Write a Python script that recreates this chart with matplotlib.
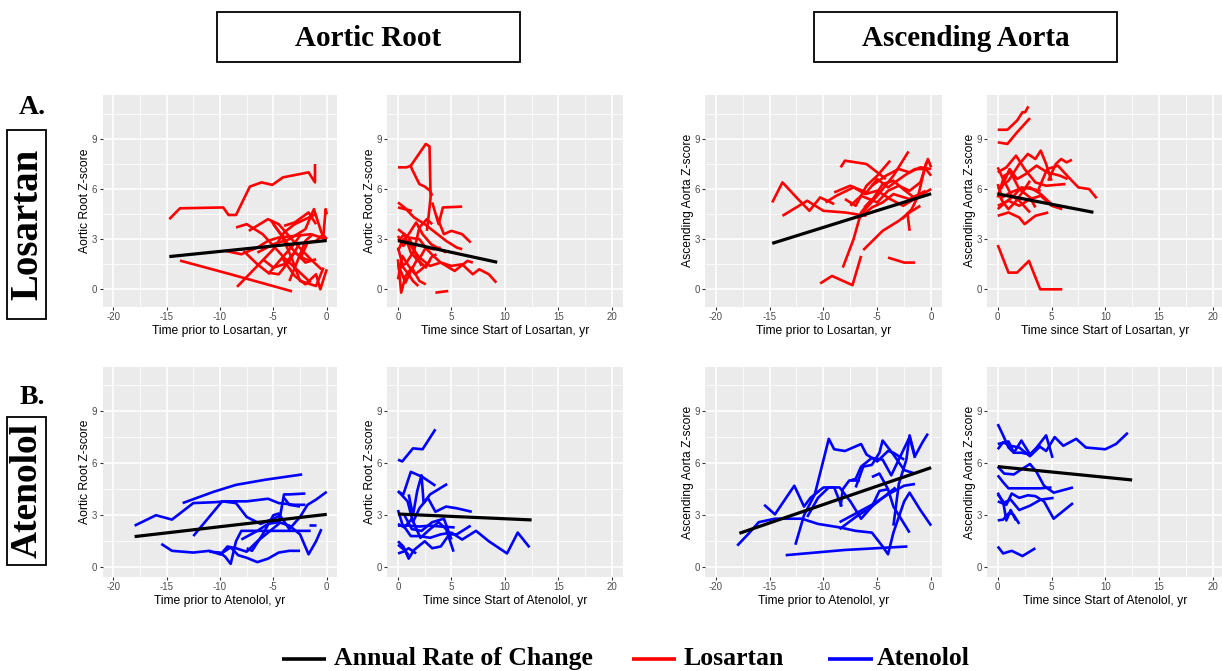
import numpy as np
import matplotlib
matplotlib.use('Agg')
import matplotlib.pyplot as plt
from matplotlib.patches import Rectangle
from matplotlib.lines import Line2D

plt.rcParams['font.family'] = ['Liberation Sans', 'DejaVu Sans']
plt.rcParams['axes.unicode_minus'] = False

# ---- data: individual patient trajectories (time, z-score) ----
root_los_pre = [
    [(-14.75, 4.2), (-13.75, 4.85), (-9.7, 4.9), (-9.2, 4.45), (-8.5, 4.45), (-7.2, 6.15), (-6.1, 6.4),
     (-5.1, 6.25), (-4.1, 6.7), (-1.7, 7.0), (-1.1, 6.4), (-1.1, 7.5)],
    [(-13.75, 1.72), (-9.0, 0.9), (-3.25, -0.12)],
    [(-8.4, 0.15), (-6.5, 1.4), (-5.0, 2.4), (-4.0, 3.4), (-3.0, 3.9), (-2.0, 4.2), (-1.0, 4.5)],
    [(-8.5, 3.7), (-7.5, 3.9), (-6.0, 3.3), (-5.0, 2.6), (-4.0, 1.9), (-2.5, 1.0), (-1.5, 0.4)],
    [(-7.3, 3.5), (-5.5, 4.2), (-4.5, 3.9), (-3.0, 2.8), (-1.5, 1.8), (-0.5, 1.2)],
    [(-5.2, 4.1), (-4.2, 3.2), (-3.3, 1.9), (-2.5, 0.5), (-1.0, 0.2), (-0.3, 1.3)],
    [(-6.5, 2.2), (-5.0, 2.7), (-3.5, 3.0), (-2.0, 3.6), (-1.2, 4.8), (-0.5, 3.4), (0, 3.0)],
    [(-9.5, 2.3), (-8.0, 2.1), (-6.5, 2.5), (-5.5, 2.9), (-4.5, 3.1), (-3.0, 3.2), (-1.5, 3.3), (0, 3.0)],
    [(-5.0, 3.9), (-3.5, 2.6), (-2.0, 1.6), (-1.0, 1.8)],
    [(-4.2, 1.9), (-3.0, 0.8), (-2.0, 0.3), (-1.0, 0.9), (-0.6, 0.0), (0, 1.2)],
    [(-2.5, 1.8), (-1.8, 2.8), (-1.0, 2.9), (-0.3, 3.3), (-0.1, 4.8), (0, 4.5)],
    [(-7.8, 2.3), (-6.5, 1.5), (-5.5, 1.0), (-4.5, 0.9), (-3.5, 1.7), (-2.5, 2.8)],
    [(-4.0, 3.8), (-3.0, 4.0), (-1.7, 4.6), (-1.0, 3.9)],
    [(-6.0, 1.8), (-5.0, 1.3), (-4.0, 1.5), (-3.0, 2.2), (-2.0, 1.8), (-1.2, 1.7)],
    [(-3.5, 0.5), (-2.8, 1.6), (-2.0, 2.9), (-1.3, 3.3)],
    [(-5.5, 0.9), (-4.3, 1.8), (-3.2, 2.6), (-2.4, 3.3)],
]
root_los_post = [
    [(0, 7.3), (0.8, 7.3), (1.2, 7.4), (1.3, 7.2), (2.0, 6.3), (2.5, 6.15), (3.0, 5.9), (3.2, 5.6)],
    [(1.2, 7.4), (2.6, 8.7), (2.95, 8.55), (3.05, 5.5), (2.9, 4.6), (2.7, 3.5)],
    [(0, 5.2), (0.6, 4.9), (1.5, 4.3), (2.5, 3.9), (3.5, 3.4), (4.5, 2.9), (5.5, 2.5), (6.0, 2.4)],
    [(0, 4.9), (1.3, 4.7)],
    [(3.2, 5.2), (3.8, 3.9), (4.2, 4.9), (6.0, 4.95)],
    [(3.6, 4.4), (4.3, 3.3), (5.0, 3.5), (6.0, 3.3), (6.8, 2.8)],
    [(0, 3.6), (1.0, 3.1), (2.0, 3.0), (2.7, 2.4), (3.3, 2.0), (4.0, 1.6), (5.0, 1.4), (6.0, 1.5), (7.0, 0.9),
     (7.6, 1.2), (8.5, 0.9), (9.2, 0.4)],
    [(0, 2.3), (0.5, 3.0), (1.2, 2.6), (2.0, 1.9), (3.0, 1.4), (4.0, 1.6), (5.3, 1.1), (6.5, 1.7), (7.0, 1.6)],
    [(0, 1.8), (0.3, -0.2), (0.7, 0.8), (1.3, 1.3), (2.0, 0.5), (2.6, 0.3)],
    [(0, 0.6), (0.4, 2.0), (1.0, 1.4), (1.6, 0.9), (2.2, 1.2), (3.0, 1.7)],
    [(0, 1.2), (0.8, 1.6), (1.5, 2.3), (2.0, 3.7), (2.7, 4.2), (3.2, 3.9)],
    [(0, 2.9), (0.6, 3.3), (1.2, 2.2), (1.9, 1.7), (2.6, 2.5), (3.3, 2.4), (4.0, 2.5)],
    [(0, 2.5), (0.5, 1.3), (1.0, 0.9), (1.4, 0.5), (1.9, 0.2)],
    [(3.5, -0.2), (4.7, -0.1)],
    [(0.2, 2.6), (1.0, 3.3), (1.7, 4.0), (2.3, 3.3), (3.1, 2.7), (4.5, 2.2)],
    [(0, 1.5), (0.7, 0.4), (1.2, 1.1), (1.8, 1.8), (2.6, 1.3), (3.1, 1.9), (3.6, 2.1)],
    [(0, 3.2), (0.5, 2.6), (1.1, 3.0), (1.6, 2.2), (2.2, 1.4)],
]
asc_los_pre = [
    [(-14.75, 5.2), (-13.8, 6.4), (-12.5, 5.5), (-11.3, 4.7), (-10.3, 5.5), (-9.0, 5.1)],
    [(-13.8, 4.4), (-11.5, 5.3), (-10.0, 4.7), (-8.0, 4.6), (-6.0, 4.4)],
    [(-8.4, 7.3), (-8.0, 7.7), (-6.0, 7.5), (-4.2, 6.6)],
    [(-8.2, 1.3), (-7.2, 3.0), (-6.5, 4.6), (-5.5, 5.4)],
    [(-10.3, 0.35), (-9.2, 0.8), (-7.3, 0.25), (-6.5, 2.0)],
    [(-6.3, 2.35), (-4.5, 3.5), (-3.0, 4.1), (-2.0, 4.6), (-1.0, 5.0)],
    [(-4.0, 1.9), (-2.5, 1.6), (-1.5, 1.6)],
    [(-2.2, 4.6), (-2.0, 3.5)],
    [(-2.1, 8.25), (-3.5, 6.8), (-5.0, 5.6), (-6.5, 4.5)],
    [(-9.0, 5.8), (-7.5, 6.2), (-6.0, 5.8), (-5.0, 6.6), (-4.0, 6.1), (-2.5, 6.8), (-1.5, 7.2), (-0.5, 7.2), (0, 6.8)],
    [(-7.5, 5.0), (-6.5, 5.6), (-5.0, 5.2), (-4.0, 5.9), (-3.0, 6.2), (-2.0, 5.9), (-1.0, 6.4), (-0.3, 7.8), (0, 7.3)],
    [(-6.8, 4.2), (-5.5, 4.9), (-4.5, 5.2), (-3.5, 5.7), (-2.0, 5.4), (-0.5, 5.9)],
    [(-8.0, 5.4), (-7.0, 5.0), (-6.0, 6.2), (-5.0, 6.8), (-3.8, 7.7)],
    [(-6.2, 4.9), (-5.3, 5.5), (-4.5, 6.3), (-3.5, 6.5), (-2.6, 6.0), (-1.6, 5.5), (-0.8, 5.7), (0, 6.0)],
    [(-9.8, 5.2), (-8.8, 5.6), (-7.2, 6.1), (-6.1, 5.7), (-5.0, 5.9), (-3.8, 5.4), (-2.6, 5.0), (-1.3, 5.5)],
    [(-5.5, 6.2), (-4.2, 6.8), (-3.0, 7.2), (-2.0, 7.0), (-1.0, 7.3), (0, 7.2)],
    [(-2.7, 4.2), (-1.8, 4.8), (-1.2, 5.6), (-0.5, 7.5), (-0.3, 7.7)],
]
asc_los_post = [
    [(0, 9.55), (0.9, 9.55), (1.8, 10.1), (2.3, 10.6), (2.55, 10.6), (2.85, 10.95)],
    [(0, 8.8), (0.9, 8.7), (1.8, 9.4), (3.0, 10.25)],
    [(0, 2.65), (1.0, 1.0), (1.8, 1.0), (2.9, 1.7), (3.95, 0.0), (4.9, 0.0), (6.0, 0.0)],
    [(3.8, 6.0), (4.6, 7.2), (5.6, 7.4), (6.6, 6.7), (7.5, 6.1), (8.5, 6.0), (9.2, 5.45)],
    [(4.7, 6.5), (5.4, 7.5), (5.9, 7.8), (6.4, 7.6), (6.9, 7.75)],
    [(0, 6.0), (1.0, 6.5), (2.0, 7.5), (2.8, 8.1), (3.5, 7.8), (4.0, 8.3), (4.5, 7.5), (5.0, 6.5)],
    [(0, 7.0), (0.8, 7.3), (1.7, 8.0), (2.5, 7.2), (3.5, 6.4), (4.5, 6.2), (6.3, 6.3)],
    [(0, 5.0), (1.0, 5.3), (2.0, 5.0), (3.0, 5.4), (4.0, 5.6), (5.0, 5.0), (6.0, 4.8)],
    [(0, 4.4), (1.0, 4.6), (2.0, 4.3), (2.5, 3.9), (3.5, 4.4), (4.7, 4.6)],
    [(0, 6.3), (0.4, 5.5), (1.2, 5.8), (2.0, 6.0), (3.0, 6.1), (4.0, 5.7), (5.0, 5.1)],
    [(0, 5.5), (0.6, 6.8), (1.2, 7.0), (2.0, 6.0), (3.0, 5.5), (3.5, 4.9)],
    [(0, 7.3), (0.5, 6.6), (1.3, 5.6), (2.0, 5.3), (3.0, 4.6)],
    [(0, 5.8), (0.5, 5.2), (1.0, 4.8), (1.6, 5.2), (2.4, 5.9), (3.0, 6.5)],
    [(0.3, 6.0), (1.1, 7.2), (1.8, 6.6), (2.6, 6.9), (3.6, 7.4), (4.6, 7.0), (5.8, 6.8), (6.5, 6.6)],
    [(0, 4.8), (0.7, 5.2), (1.5, 5.6), (2.2, 6.1), (3.2, 6.0), (4.0, 5.9)],
]
root_ate_pre = [
    [(-13.5, 3.7), (-10.6, 4.35), (-8.5, 4.75), (-5.7, 5.05), (-2.3, 5.35)],
    [(-18.0, 2.4), (-16.0, 3.0), (-14.5, 2.75), (-12.5, 3.7), (-10.5, 3.75), (-9.5, 3.8), (-7.5, 3.8),
     (-5.5, 3.95), (-4.5, 3.7), (-3.0, 3.6), (-2.0, 3.6)],
    [(-12.5, 1.8), (-9.8, 3.8), (-8.5, 3.7), (-7.5, 2.9), (-6.2, 2.5), (-5.0, 2.8), (-4.3, 3.0)],
    [(-15.5, 1.35), (-14.5, 0.95), (-12.5, 0.85), (-11.0, 0.95), (-10.0, 0.75), (-9.0, 1.15), (-8.3, 0.7),
     (-7.5, 0.55), (-6.5, 0.3), (-5.5, 0.5), (-4.5, 0.85), (-3.5, 0.95), (-2.5, 0.95)],
    [(-11.0, 0.9), (-10.0, 0.85), (-9.5, 0.6), (-9.0, 0.2), (-8.5, 1.5), (-8.0, 2.1), (-5.0, 2.1), (-1.5, 2.1)],
    [(-10.0, 0.7), (-9.3, 1.2), (-8.5, 1.1), (-7.5, 0.9), (-6.5, 1.5), (-5.5, 2.0), (-4.5, 2.5), (-4.0, 4.2),
     (-3.5, 4.2), (-2.0, 4.25)],
    [(-7.5, 1.1), (-7.0, 0.95), (-6.0, 1.9), (-5.0, 3.0), (-4.5, 3.1), (-3.5, 2.2), (-2.5, 2.9), (-1.8, 3.6),
     (-1.0, 3.9), (0, 4.35)],
    [(-8.0, 1.6), (-6.5, 2.1), (-5.5, 2.5), (-4.5, 2.6), (-3.5, 2.4), (-2.5, 1.9), (-1.7, 0.75), (-1.0, 1.5),
     (-0.5, 2.2)],
    [(-1.7, 2.45), (-1.0, 2.45)],
    [(-4.0, 4.0), (-3.5, 3.6), (-2.5, 3.5)],
]
root_ate_post = [
    [(0, 6.2), (0.4, 6.1), (1.4, 6.85), (2.3, 6.8), (3.5, 7.95)],
    [(0, 4.35), (0.5, 4.2), (1.2, 5.5), (2.3, 5.2), (3.5, 4.7)],
    [(1.0, 4.2), (1.4, 3.0), (1.8, 4.4), (2.2, 5.3), (2.4, 3.7), (3.0, 4.2), (4.6, 4.8)],
    [(0, 4.4), (0.9, 3.8), (1.4, 2.6), (2.0, 3.4), (2.8, 4.0), (3.5, 3.2), (4.5, 3.5), (5.5, 3.4), (6.9, 3.2)],
    [(0, 3.3), (0.4, 2.5), (1.2, 1.8), (2.0, 1.8), (3.0, 1.7), (4.0, 1.9), (5.0, 2.0), (6.0, 1.6), (7.3, 2.1),
     (8.5, 1.5), (10.2, 0.8), (11.2, 2.0), (12.3, 1.15)],
    [(0, 2.4), (1.0, 2.4), (2.0, 2.35), (3.0, 2.4), (4.0, 2.35), (5.3, 2.3)],
    [(0, 2.5), (0.6, 2.3), (1.3, 2.8), (2.1, 1.7), (3.0, 2.2), (3.8, 2.6), (4.5, 2.2), (5.2, 0.9)],
    [(0, 1.5), (0.5, 1.2), (1.0, 0.5), (1.5, 1.0), (2.5, 1.5), (3.2, 1.1), (4.0, 1.2), (4.8, 1.9), (5.5, 1.9),
     (6.8, 2.4)],
    [(0, 0.8), (0.5, 0.9), (1.0, 1.1), (1.7, 0.8)],
    [(0, 1.3), (0.6, 1.0), (1.0, 0.7)],
    [(0.6, 3.0), (1.3, 2.2), (2.2, 2.1), (3.2, 2.6), (4.3, 2.8), (5.0, 1.6)],
]
asc_ate_pre = [
    [(-18.0, 1.25), (-17.0, 1.9), (-16.0, 2.6), (-14.5, 2.8), (-12.0, 2.8), (-10.5, 2.5), (-8.5, 2.3),
     (-7.0, 2.1), (-5.5, 2.0), (-4.5, 1.2), (-4.0, 0.75), (-3.5, 2.0), (-2.5, 3.8), (-2.0, 4.3), (-1.0, 3.3),
     (0, 2.4)],
    [(-13.5, 0.7), (-8.0, 1.0), (-2.2, 1.2)],
    [(-15.5, 3.6), (-14.5, 3.05), (-12.7, 4.7), (-11.8, 3.5), (-11.2, 4.0), (-10.0, 4.6), (-9.0, 4.6),
     (-8.3, 3.5)],
    [(-12.6, 1.3), (-11.8, 3.0), (-10.8, 4.2), (-9.5, 7.4), (-9.0, 6.8), (-8.0, 6.7), (-6.5, 7.1), (-6.0, 6.5),
     (-5.0, 6.1), (-4.0, 6.7), (-3.5, 6.6), (-2.5, 6.2)],
    [(-11.5, 2.9), (-10.5, 4.0), (-9.5, 4.6), (-8.5, 4.6), (-7.5, 3.8), (-6.5, 2.8), (-5.5, 3.5), (-4.8, 4.4),
     (-4.0, 4.5)],
    [(-8.5, 2.6), (-7.0, 3.1), (-5.5, 3.6), (-4.0, 4.2), (-2.5, 4.7), (-1.5, 4.8)],
    [(-8.5, 2.2), (-7.0, 2.9), (-5.5, 3.5), (-4.5, 4.0), (-3.3, 4.6)],
    [(-7.0, 4.6), (-6.3, 5.8), (-5.5, 5.9), (-4.8, 6.6), (-4.5, 7.3), (-3.5, 6.5), (-2.5, 5.6), (-1.5, 5.4)],
    [(-5.5, 5.2), (-4.8, 5.4), (-4.0, 4.5), (-3.5, 3.5), (-2.5, 2.5), (-2.0, 2.0)],
    [(-3.5, 2.4), (-3.0, 4.8), (-2.3, 6.2), (-2.0, 7.6), (-1.5, 6.4), (-0.8, 7.2), (-0.3, 7.7)],
    [(-7.5, 5.0), (-7.0, 5.1), (-6.5, 5.8), (-5.5, 6.3), (-4.5, 6.2), (-3.7, 5.3), (-2.0, 7.5), (-1.5, 6.3)],
    [(-8.4, 3.5), (-8.2, 4.5), (-7.6, 5.0), (-6.6, 5.0)],
]
asc_ate_post = [
    [(0, 8.25), (0.5, 7.6), (1.0, 6.9), (1.5, 6.6), (2.2, 6.6), (3.0, 6.5), (3.5, 6.8), (4.5, 7.6), (5.1, 6.3)],
    [(0, 7.1), (1.0, 7.25), (1.5, 6.6), (2.2, 7.3), (3.0, 6.5), (3.8, 7.0), (4.5, 6.7), (5.3, 7.5), (6.1, 7.0),
     (7.3, 7.4), (8.2, 6.9), (10.0, 6.8), (11.0, 7.1), (12.1, 7.75)],
    [(0, 6.8), (0.5, 7.2), (1.2, 7.0), (2.0, 6.9), (3.0, 6.4), (4.0, 7.0)],
    [(0, 5.8), (0.6, 5.4), (1.5, 5.35), (2.1, 5.6), (3.0, 5.95), (3.6, 5.5), (4.3, 4.7), (5.2, 4.3), (7.0, 4.6)],
    [(0, 5.3), (0.5, 4.9), (1.0, 4.55), (2.0, 4.55), (3.0, 4.55), (4.0, 4.55), (5.0, 4.6)],
    [(0, 4.3), (0.5, 3.7), (1.2, 3.9), (2.0, 3.3), (3.0, 3.55), (4.0, 3.9), (5.2, 4.0)],
    [(0, 3.8), (0.8, 3.6), (1.3, 4.25), (2.0, 4.0), (2.8, 4.15), (3.5, 4.1), (4.3, 3.8), (5.2, 2.8), (6.0, 3.2),
     (7.0, 3.7)],
    [(0, 2.7), (0.5, 2.75), (1.0, 3.1), (1.3, 3.1), (1.5, 3.0), (2.0, 2.5)],
    [(0, 1.2), (0.5, 0.8), (1.3, 0.95), (2.3, 0.65), (3.5, 1.1)],
    [(0, 4.2), (0.5, 3.8), (0.8, 2.7), (1.2, 3.3), (1.7, 2.7)],
]

# annual rate of change (fitted line end points)
trend_root_los_pre = [(-14.75, 1.96), (0, 2.92)]
trend_root_los_post = [(0, 2.91), (9.28, 1.62)]
trend_asc_los_pre = [(-14.75, 2.75), (0, 5.72)]
trend_asc_los_post = [(0, 5.71), (8.9, 4.61)]
trend_root_ate_pre = [(-18.0, 1.77), (0, 3.05)]
trend_root_ate_post = [(0, 3.07), (12.5, 2.73)]
trend_asc_ate_pre = [(-17.8, 1.96), (0, 5.74)]
trend_asc_ate_post = [(0, 5.8), (12.5, 5.03)]

pre_ticks = [-20, -15, -10, -5, 0]
post_ticks = [0, 5, 10, 15, 20]
z_ticks = [0, 3, 6, 9]

W, H = 1222, 671
RED = '#FF0000'
BLUE = '#0000FF'


def px_rect(x0, x1, y_top, y_bot):
    return [x0 / W, 1 - y_bot / H, (x1 - x0) / W, (y_bot - y_top) / H]


def make_panel(fig, rect, xticks, ylim, xlabel, ylabel):
    ax = fig.add_axes(rect)
    ax.set_facecolor('#EBEBEB')
    if xticks[0] < 0:
        ax.set_xlim(-21, 1)
    else:
        ax.set_xlim(-1, 21)
    ax.set_ylim(ylim)
    ax.set_xticks(xticks)
    ax.set_xticks([t + 2.5 for t in xticks[:-1]], minor=True)
    ax.set_yticks(z_ticks)
    ax.set_yticks([1.5, 4.5, 7.5, 10.5], minor=True)
    ax.grid(which='major', color='white', lw=1.1)
    ax.grid(which='minor', color='white', lw=0.55)
    ax.set_axisbelow(True)
    ax.tick_params(which='minor', length=0)
    ax.tick_params(which='major', length=2.2, width=0.8, color='#333333',
                   labelsize=7, labelcolor='#4D4D4D', pad=1.5)
    for s in ax.spines.values():
        s.set_visible(False)
    ax.set_xlabel(xlabel, fontsize=8.7, labelpad=2)
    ax.set_ylabel(ylabel, fontsize=8.7, labelpad=0.5)
    return ax


def draw_lines(ax, paths, color, trend):
    for p in paths:
        xy = np.array(p)
        ax.plot(xy[:, 0], xy[:, 1], color=color, lw=1.9, solid_joinstyle='round', solid_capstyle='butt')
    t = np.array(trend)
    ax.plot(t[:, 0], t[:, 1], color='black', lw=2.3, solid_capstyle='butt', zorder=5)


def add_box(fig, x0, x1, y_top, y_bot):
    fig.patches.append(Rectangle((x0 / W, 1 - y_bot / H), (x1 - x0) / W, (y_bot - y_top) / H,
                                 transform=fig.transFigure, fill=False, lw=1.3, ec='black'))


def main():
    fig = plt.figure(figsize=(W / 100, H / 100), dpi=100)
    fig.patch.set_facecolor('white')

    cols = [(102.6, 337.4), (387.3, 622.5), (704.9, 941.9), (987.0, 1223.5)]
    top = (95.0, 306.7)
    bot = (367.3, 576.7)
    top_ylim = (-1.04, 11.63)
    bot_ylim = (-0.54, 11.52)

    panels = [
        (cols[0], top, pre_ticks, top_ylim, 'Time prior to Losartan, yr', 'Aortic Root Z-score', root_los_pre, RED, trend_root_los_pre),
        (cols[1], top, post_ticks, top_ylim, 'Time since Start of Losartan, yr', 'Aortic Root Z-score', root_los_post, RED, trend_root_los_post),
        (cols[2], top, pre_ticks, top_ylim, 'Time prior to Losartan, yr', 'Ascending Aorta Z-score', asc_los_pre, RED, trend_asc_los_pre),
        (cols[3], top, post_ticks, top_ylim, 'Time since Start of Losartan, yr', 'Ascending Aorta Z-score', asc_los_post, RED, trend_asc_los_post),
        (cols[0], bot, pre_ticks, bot_ylim, 'Time prior to Atenolol, yr', 'Aortic Root Z-score', root_ate_pre, BLUE, trend_root_ate_pre),
        (cols[1], bot, post_ticks, bot_ylim, 'Time since Start of Atenolol, yr', 'Aortic Root Z-score', root_ate_post, BLUE, trend_root_ate_post),
        (cols[2], bot, pre_ticks, bot_ylim, 'Time prior to Atenolol, yr', 'Ascending Aorta Z-score', asc_ate_pre, BLUE, trend_asc_ate_pre),
        (cols[3], bot, post_ticks, bot_ylim, 'Time since Start of Atenolol, yr', 'Ascending Aorta Z-score', asc_ate_post, BLUE, trend_asc_ate_post),
    ]
    for (x0, x1), (yt, yb), ticks, ylim, xl, yl, paths, color, trend in panels:
        ax = make_panel(fig, px_rect(x0, x1, yt, yb), ticks, ylim, xl, yl)
        draw_lines(ax, paths, color, trend)

    serif = dict(family='Liberation Serif', weight='bold')

    # column headers
    add_box(fig, 216.6, 520.0, 12.3, 62.3)
    fig.text(368.3 / W, 1 - 38 / H, 'Aortic Root', ha='center', va='center', fontsize=21, **serif)
    add_box(fig, 814.0, 1117.0, 12.3, 62.3)
    fig.text(965.5 / W, 1 - 38 / H, 'Ascending Aorta', ha='center', va='center', fontsize=21, **serif)

    # row headers
    fig.text(32.5 / W, 1 - 108 / H, 'A.', ha='center', va='center', fontsize=20, **serif)
    add_box(fig, 7.0, 46.0, 130.0, 319.0)
    fig.text(27.5 / W, 1 - 224.5 / H, 'Losartan', ha='center', va='center', rotation=90, fontsize=28, **serif)
    fig.text(32.5 / W, 1 - 397 / H, 'B.', ha='center', va='center', fontsize=20, **serif)
    add_box(fig, 7.0, 46.0, 417.0, 565.0)
    fig.text(27.5 / W, 1 - 491 / H, 'Atenolol', ha='center', va='center', rotation=90, fontsize=27, **serif)

    # legend
    ly = 1 - 659 / H
    for (a, b), c in [((282, 326), 'black'), ((632, 676), RED), ((828, 873), BLUE)]:
        fig.add_artist(Line2D([a / W, b / W], [ly, ly], transform=fig.transFigure, color=c, lw=2.6,
                              solid_capstyle='butt'))
    for x, label in [(334, 'Annual Rate of Change'), (683, 'Losartan'), (877, 'Atenolol')]:
        fig.text(x / W, 1 - 665 / H, label, ha='left', va='baseline', fontsize=18.5, **serif)

    fig.savefig('out.png', dpi=100)


if __name__ == '__main__':
    main()
